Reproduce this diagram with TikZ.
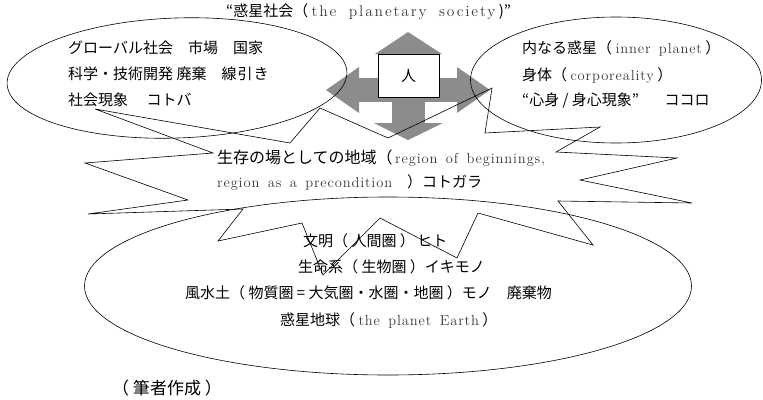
\documentclass[tikz,border=0pt]{standalone}
\usepackage{fontspec}
\newfontfamily\jp{Noto Sans CJK JP}
\newfontfamily\enf{lmroman12-regular}[Extension=.otf,LetterSpace=6,WordSpace=1.5]
\newfontfamily\enw{lmroman12-regular}[Extension=.otf,LetterSpace=12,WordSpace=1.8]
\usetikzlibrary{shapes.geometric}
\definecolor{arrowgray}{RGB}{140,140,140}
\definecolor{entext}{RGB}{55,55,55}
\newcommand\E[1]{{\enf\fontsize{14.5}{16}\selectfont\color{entext}#1}}
\newcommand\Ew[1]{{\enw\fontsize{15.5}{17}\selectfont\color{entext}#1}}
\begin{document}
\begin{tikzpicture}[x=1pt,y=-1pt,
  txt/.style={anchor=west,inner sep=0pt,font=\jp\fontsize{15}{17}\selectfont},
  outline/.style={draw=black,line width=0.6pt},
  sphere/.style={outline,ellipse,inner sep=0pt},
  grey/.style={fill=arrowgray}
]
\useasboundingbox (0,0) rectangle (763,399);
% grey four-way arrow
\fill[grey] (408,32) -- (442,54) -- (375,54) -- cycle;
\fill[grey] (392,54) rectangle (425,123);
\fill[grey] (359,78) rectangle (457,102);
\fill[grey] (359,67) -- (326,90) -- (359,113) -- cycle;
\fill[grey] (457,67) -- (490,90) -- (457,113) -- cycle;
\fill[grey] (374,123) -- (443,123) -- (408,140) -- cycle;
\node[draw,fill=white,line width=0.8pt,minimum width=61,minimum height=43,inner sep=0pt,font=\jp\fontsize{15}{17}\selectfont] (hito) at (408.5,75.5) {人};
% ellipses
\node[sphere,minimum width=340,minimum height=120,rotate=2] (society) at (177,78) {};
\node[sphere,minimum width=291,minimum height=126] (inner) at (616,80) {};
\node[sphere,minimum width=607,minimum height=178] (earth) at (388,286) {};
% zigzag burst
\draw[outline,line join=miter] (95,109) -- (290,143) -- (320,108) -- (388,138) -- (492,88) -- (485,133) -- (600,127) -- (556,152) -- (677,158) -- (580,180) -- (692,203) -- (558,201) -- (593,245) -- (478,213) -- (457,258) -- (380,218) -- (323,275) -- (302,223) -- (218,241) -- (243,209) -- (88,214) -- (188,200) -- (85,163) -- (213,153) -- cycle;
% texts
\node[txt] (title) at (226,12) {“惑星社会（ \Ew{the planetary society} )”};
\node[txt] (l1) at (68,48) {グローバル社会　市場　国家};
\node[txt] (l2) at (68,74) {科学・技術開発 廃棄　線\kern1pt 引\kern1pt き};
\node[txt] (l3) at (68,100) {社会現象　 コトバ};
\node[txt] (r1) at (522,48) {内なる惑星（ \E{inner planet} ）};
\node[txt] (r2) at (522,76) {身体（ \E{corporeality} ）};
\node[txt] (r3) at (522,101) {“心身 / 身心現象”\hspace{1.7em}ココロ};
\node[txt] (m1) at (217,158) {{\fontsize{16}{17}\selectfont 生存の場としての地域（}\,\E{region of beginnings,}};
\node[txt] (m2) at (217,183) {\E{region as a precondition}　）コトガラ};
\node[txt] (b1) at (303,241) {文明（ 人間圏 ）\,ヒト};
\node[txt] (b2) at (298,267) {生命系（ 生物圏 ）イキモノ};
\node[txt] (b3) at (185,293) {風水土（ 物質圏 = 大気圏・水圏・地圏 ）モノ　廃棄物};
\node[txt] (b4) at (280,320) {惑星地球（ \E{the planet Earth} ）};
\node[txt,font=\jp\fontsize{17}{19}\selectfont] (src) at (112,388) {（ 筆者作成 ）};
\end{tikzpicture}
\end{document}
